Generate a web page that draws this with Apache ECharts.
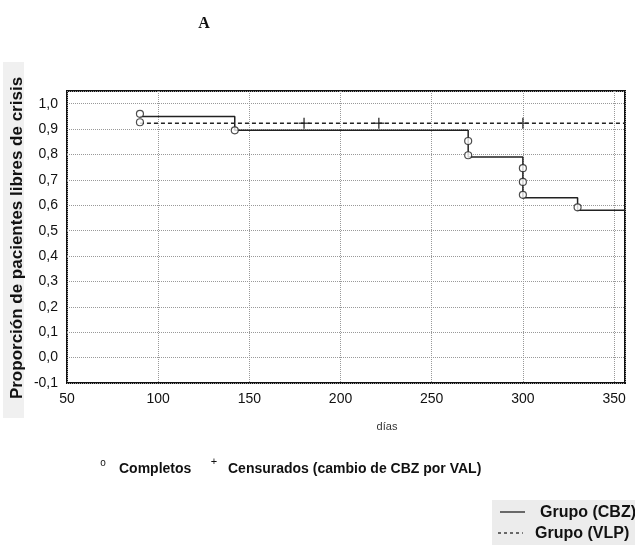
<!DOCTYPE html>
<html>
<head>
<meta charset="utf-8">
<script src="https://cdn.jsdelivr.net/npm/echarts@6/dist/echarts.min.js"></script>
<style>
html,body{margin:0;padding:0;background:#fff;}
#chart{width:635px;height:545px;}
</style>
</head>
<body>
<div id="chart"></div>
<script>
// ---- Data ----
const xTicks = [50, 100, 150, 200, 250, 300, 350];
const yTicks = [-0.1, 0.0, 0.1, 0.2, 0.3, 0.4, 0.5, 0.6, 0.7, 0.8, 0.9, 1.0];

// Kaplan-Meier step curve, group CBZ (solid)
const cbzDays = [90, 142, 270, 300, 330, 356];
const cbzProp = [0.95, 0.895, 0.79, 0.63, 0.58, 0.58];

// Group VLP (dashed)
const vlpDays = [90, 356];
const vlpProp = [0.923, 0.923];

// Completed cases (circles)
const compDays = [90, 90, 142, 270, 270, 300, 300, 300, 330];
const compProp = [0.96, 0.927, 0.895, 0.853, 0.797, 0.746, 0.692, 0.641, 0.592];

// Censored cases (+)
const censDays = [180, 221, 300];
const censProp = [0.923, 0.923, 0.923];

const zip = (a, b) => a.map((v, i) => [v, b[i]]);

const chart = echarts.init(document.getElementById('chart'), null, {renderer: 'canvas'});
const font = '"Liberation Sans", Arial, sans-serif';

chart.setOption({
  backgroundColor: '#fff',
  animation: false,
  grid: {left: 67, top: 91, right: 10, bottom: 162, show: true, borderColor: '#111', borderWidth: 2, backgroundColor: 'transparent'},
  xAxis: {
    type: 'value', min: 50, max: 356, interval: 50,
    axisLine: {show: false}, axisTick: {show: false},
    splitLine: {show: true, lineStyle: {type: 'dotted', color: '#999', width: 1}},
    axisLabel: {fontFamily: font, fontSize: 14, color: '#111', margin: 9,
      formatter: v => (xTicks.indexOf(Math.round(v)) >= 0 && Math.abs(v - Math.round(v)) < 1e-6) ? String(Math.round(v)) : ''}
  },
  yAxis: {
    type: 'value', min: -0.1, max: 1.05, interval: 0.1,
    axisLine: {show: false}, axisTick: {show: false},
    splitLine: {show: true, lineStyle: {type: 'dotted', color: '#999', width: 1}},
    axisLabel: {fontFamily: font, fontSize: 14, color: '#111', margin: 9,
      formatter: v => {
        const r = Math.round(v * 10) / 10;
        if (Math.abs(v - r) > 1e-6 || !yTicks.some(t => Math.abs(t - r) < 1e-6)) return '';
        return r.toFixed(1).replace('.', ',');
      }}
  },
  series: [
    {type: 'line', name: 'Grupo (CBZ)', step: 'end', data: zip(cbzDays, cbzProp), showSymbol: false,
     lineStyle: {color: '#222', width: 1.5}, z: 3},
    {type: 'line', name: 'Grupo (VLP)', data: zip(vlpDays, vlpProp), showSymbol: false,
     lineStyle: {color: '#222', width: 1.5, type: [4, 3]}, z: 3},
    {type: 'scatter', name: 'Completos', data: zip(compDays, compProp), symbol: 'circle', symbolSize: 7,
     itemStyle: {color: '#fff', borderColor: '#222', borderWidth: 1.2}, z: 5},
    {type: 'scatter', name: 'Censurados', data: zip(censDays, censProp),
     symbol: 'path://M4.3,0H5.7V4.3H10V5.7H5.7V10H4.3V5.7H0V4.3H4.3Z', symbolSize: 11,
     itemStyle: {color: '#222'}, z: 5}
  ],
  graphic: [
    {type: 'rect', shape: {x: 3, y: 62, width: 21, height: 356}, style: {fill: '#f0f0f0'}, z: -1},
    {type: 'text', x: 17, y: 238, rotation: Math.PI / 2,
     style: {text: 'Proporción de pacientes libres de crisis', font: 'bold 17px ' + font, fill: '#111',
       textAlign: 'center', textVerticalAlign: 'middle'}},
    {type: 'text', x: 204, y: 24,
     style: {text: 'A', font: 'bold 16px "Liberation Serif", "Times New Roman", serif', fill: '#111',
       textAlign: 'center', textVerticalAlign: 'middle'}},
    {type: 'text', x: 387, y: 427,
     style: {text: 'días', font: '11px ' + font, fill: '#333', textAlign: 'center', textVerticalAlign: 'middle'}},
    {type: 'text', x: 103, y: 463,
     style: {text: 'o', font: '10px ' + font, fill: '#111', textAlign: 'center', textVerticalAlign: 'middle'}},
    {type: 'text', x: 119, y: 469,
     style: {text: 'Completos', font: 'bold 14px ' + font, fill: '#111', textAlign: 'left', textVerticalAlign: 'middle'}},
    {type: 'text', x: 214, y: 462,
     style: {text: '+', font: '11px ' + font, fill: '#111', textAlign: 'center', textVerticalAlign: 'middle'}},
    {type: 'text', x: 228, y: 469,
     style: {text: 'Censurados (cambio de CBZ por VAL)', font: 'bold 14px ' + font, fill: '#111', textAlign: 'left', textVerticalAlign: 'middle'}},
    {type: 'rect', shape: {x: 492, y: 500, width: 143, height: 45}, style: {fill: '#ececec'}, z: -1},
    {type: 'line', shape: {x1: 500, y1: 512, x2: 525, y2: 512}, style: {stroke: '#111', lineWidth: 1.2}},
    {type: 'text', x: 540, y: 513,
     style: {text: 'Grupo (CBZ)', font: 'bold 16px ' + font, fill: '#111', textAlign: 'left', textVerticalAlign: 'middle'}},
    {type: 'line', shape: {x1: 498, y1: 533, x2: 523, y2: 533}, style: {stroke: '#111', lineWidth: 1.2, lineDash: [3, 3]}},
    {type: 'text', x: 535, y: 534,
     style: {text: 'Grupo (VLP)', font: 'bold 16px ' + font, fill: '#111', textAlign: 'left', textVerticalAlign: 'middle'}}
  ]
});
</script>
</body>
</html>
